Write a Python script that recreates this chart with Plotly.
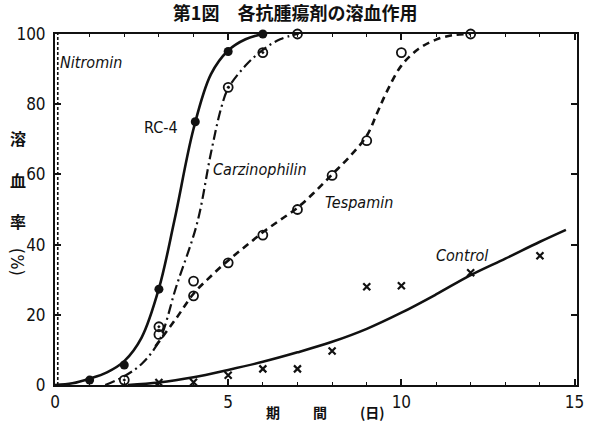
import plotly.graph_objects as go

# ---- data ----
# measured points
rc4_x = [1, 2, 3, 4.05, 5, 6]
rc4_y = [1.4, 5.7, 27.3, 75, 95, 100]

carz_x = [2, 3, 5, 6, 7]
carz_y = [1.4, 16.6, 84.8, 94.7, 100]

tesp_x = [3, 4, 4, 5, 6, 7, 8, 9, 10, 12]
tesp_y = [14.4, 29.6, 25.4, 34.8, 42.7, 50, 59.7, 69.6, 94.7, 100]

ctrl_x = [3, 4, 5, 6, 7, 8, 9, 10, 12, 14]
ctrl_y = [0.7, 0.8, 2.8, 4.6, 4.6, 9.7, 28, 28.3, 32, 36.8]

# fitted curves
rc4_cx = [0, 0.5, 1, 1.5, 2, 2.5, 3, 3.45, 4, 4.5, 5, 5.5, 6]
rc4_cy = [0, 0.5, 1.8, 3.6, 6.8, 13.5, 27.5, 47, 73, 88.5, 95.3, 98.5, 100]

carz_cx = [1.45, 2, 2.5, 3, 3.5, 4.1, 4.5, 4.8, 5, 5.5, 6, 6.5, 7]
carz_cy = [0, 2.5, 6, 12.5, 28, 46, 66, 79, 84.5, 91, 95.5, 98.5, 100]

tesp_cx = [2.9, 3.5, 4, 4.5, 5, 5.5, 6, 6.5, 7, 7.5, 8, 8.5, 9, 9.3, 9.6, 10, 10.5, 11, 11.5, 12]
tesp_cy = [11, 19, 26, 31, 35.5, 39.5, 43.5, 47, 50.5, 55, 60, 65, 71, 77.5, 84, 91, 95.8, 98.4, 99.7, 100]

ctrl_cx = [2.1, 3, 4, 5, 6, 7, 8, 9, 10, 11, 12, 13, 14, 14.75]
ctrl_cy = [0, 0.7, 2.2, 4.3, 6.6, 9.3, 12.3, 16, 20.6, 25.8, 31.3, 36, 40.8, 44.2]

nitro_cx = [0.08, 0.08]
nitro_cy = [0, 100]

x_ticks = [0, 5, 10, 15]
y_ticks = [0, 20, 40, 60, 80, 100]

labels = ["Nitromin", "RC-4", "Carzinophilin", "Tespamin", "Control"]
label_x = [0.1, 2.5, 4.5, 7.75, 10.95]
label_y = [92, 73.5, 61.3, 52, 37]

title_text = "第1図　各抗腫瘍剤の溶血作用"
xtitle_parts = ["期", "間", "(日)"]
ylabel_chars = ["溶", "血", "率"]

BLACK = "#111111"
fig = go.Figure()

# curves
fig.add_trace(go.Scatter(x=nitro_cx, y=nitro_cy, mode="lines",
                         line=dict(color=BLACK, width=1.6, dash="3px,2px"), cliponaxis=False))
fig.add_trace(go.Scatter(x=rc4_cx, y=rc4_cy, mode="lines", line_shape="spline",
                         line=dict(color=BLACK, width=2.6), cliponaxis=False))
fig.add_trace(go.Scatter(x=carz_cx, y=carz_cy, mode="lines", line_shape="spline",
                         line=dict(color=BLACK, width=2.2, dash="10px,4px,2px,4px"), cliponaxis=False))
fig.add_trace(go.Scatter(x=tesp_cx, y=tesp_cy, mode="lines", line_shape="spline",
                         line=dict(color=BLACK, width=2.6, dash="7px,5px"), cliponaxis=False))
fig.add_trace(go.Scatter(x=ctrl_cx, y=ctrl_cy, mode="lines", line_shape="spline",
                         line=dict(color=BLACK, width=2.6), cliponaxis=False))

# points
fig.add_trace(go.Scatter(x=rc4_x, y=rc4_y, mode="markers", cliponaxis=False,
                         marker=dict(symbol="circle", size=9, color=BLACK)))
fig.add_trace(go.Scatter(x=carz_x, y=carz_y, mode="markers", cliponaxis=False,
                         marker=dict(symbol="circle-open-dot", size=9, color=BLACK,
                                     line=dict(width=1.8, color=BLACK))))
fig.add_trace(go.Scatter(x=tesp_x, y=tesp_y, mode="markers", cliponaxis=False,
                         marker=dict(symbol="circle-open", size=9, color=BLACK,
                                     line=dict(width=1.8, color=BLACK))))
fig.add_trace(go.Scatter(x=ctrl_x, y=ctrl_y, mode="markers", cliponaxis=False,
                         marker=dict(symbol="x-thin-open", size=7, color=BLACK,
                                     line=dict(width=2.2, color=BLACK))))

ann = []
for t, x, y in zip(labels, label_x, label_y):
    italic = t != "RC-4"
    ann.append(dict(x=x, y=y, xref="x", yref="y", xanchor="left", yanchor="middle",
                    text=(f"<i>{t}</i>" if italic else t), showarrow=False,
                    font=dict(family="DejaVu Sans Condensed, Liberation Sans Narrow",
                              size=16, color=BLACK)))
# y-axis label, stacked (pixel positions converted below)
char_py = [138, 180, 221]
for ch, py in zip(ylabel_chars, char_py):
    ann.append(dict(x=18, y=py, xref="paper", yref="paper", text=ch, showarrow=False,
                    font=dict(family="Noto Sans CJK JP", size=16, color=BLACK, weight=600)))
ann.append(dict(x=18, y=262, xref="paper", yref="paper", text="(%)", showarrow=False,
                textangle=90,
                font=dict(family="DejaVu Sans Condensed", size=18, color=BLACK)))
# x-axis title pieces
xt_px = [274, 321, 374]
for t, px in zip(xtitle_parts, xt_px):
    ann.append(dict(x=px, y=412, xref="paper", yref="paper", text=t, showarrow=False,
                    font=dict(family="Noto Sans CJK JP", size=14, color=BLACK, weight=600)))

L, R, T, B = 55, 17, 34, 45
W, H = 596, 430
pw, ph = W - L - R, H - T - B
for a in ann:
    if a["xref"] == "paper":
        a["x"] = (a["x"] - L) / pw
        a["y"] = (H - B - a["y"]) / ph
        a["xanchor"] = "center"
        a["yanchor"] = "middle"

fig.update_layout(
    width=W, height=H,
    margin=dict(l=L, r=R, t=T, b=B),
    paper_bgcolor="white", plot_bgcolor="white",
    showlegend=False,
    title=dict(text=title_text, x=(296 - L) / pw, xref="paper", xanchor="center",
               y=1 - 14 / H, yanchor="middle",
               font=dict(family="Noto Sans CJK JP", size=18, color=BLACK, weight=600)),
    annotations=ann,
)
axis_font = dict(family="Liberation Sans Narrow, DejaVu Sans Condensed", size=17, color=BLACK)
fig.update_xaxes(range=[0, 15.07], tickvals=x_ticks, ticktext=[str(v) for v in x_ticks],
                 showgrid=False, zeroline=False, showline=True, linecolor=BLACK, linewidth=2,
                 mirror="ticks", ticks="inside", ticklen=6, tickwidth=1.5, tickcolor=BLACK,
                 tickfont=axis_font, ticklabelstandoff=1,
                 minor=dict(dtick=1, ticks="inside", ticklen=3, tickcolor=BLACK, tickwidth=1))
fig.update_yaxes(range=[0, 100], tickvals=y_ticks, ticktext=[str(v) for v in y_ticks],
                 showgrid=False, zeroline=False, showline=True, linecolor=BLACK, linewidth=2,
                 mirror="ticks", ticks="inside", ticklen=6, tickwidth=1.5, tickcolor=BLACK,
                 tickfont=axis_font, ticklabelstandoff=4)

fig.write_html("out.html", config={"displayModeBar": False},
               post_script="document.body.style.margin='0';")
